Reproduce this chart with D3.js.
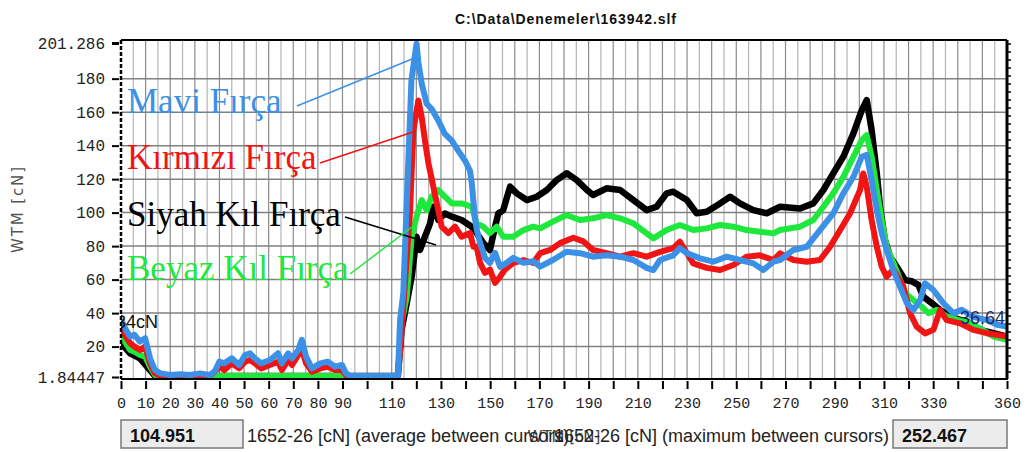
<!DOCTYPE html>
<html>
<head>
<meta charset="utf-8">
<script src="https://cdn.jsdelivr.net/npm/d3@7"></script>
<style>
  body { margin: 0; background: #fff; }
  svg { display: block; }
</style>
</head>
<body>
<svg width="1029" height="452"></svg>
<script>
// tick values / labels
const xTicks = d3.range(0, 361, 10);
const xLabels = [0, 10, 20, 30, 40, 50, 60, 70, 80, 90, 110, 130, 150, 170, 190, 210, 230, 250, 270, 290, 310, 330, 360];
const yTicks = [1.84447, 20, 40, 60, 80, 100, 120, 140, 160, 180, 201.286];
const yLabels = ['1.84447', '20', '40', '60', '80', '100', '120', '140', '160', '180', '201.286'];

// series, [position, cN]
const blueData = [[0,36],[2,30],[3.7,26],[5.5,27],[7.7,23],[9.8,25],[11.8,13],[13.8,6],[16,4],[20,3],[24,3.5],[28,3],[32,4],[36,3],[38,5],[40,11],[42,10],[45,13],[48,9],[50.4,15],[52.4,16],[54.4,13],[57,10],[60.5,12],[63.8,16],[65.4,10],[67.9,16],[69.5,13],[72,18],[73.5,24],[75.2,14],[77.6,7],[81,10],[84,11],[87,8],[89.8,9],[91.4,4],[93,2.5],[112.5,2.5],[113.4,36],[114.7,52],[116.7,129],[118,179],[120.1,201],[120.8,190],[122.2,177],[124.2,165],[126.2,162],[128.9,155],[131.6,147],[134.4,143],[137,137],[139.8,131],[141.8,125],[142.5,118],[143.8,97],[144.5,90],[145.9,82],[147.9,73],[149.9,70],[152,76],[154,67.6],[156.7,70],[159.4,73],[163.5,70],[167.5,71],[170.3,67.7],[175.5,71.7],[181,76.6],[186.5,75.8],[191.8,73.7],[197.3,74.5],[202.8,73.7],[208.2,71.7],[213.6,67],[216.3,65.7],[219,71.7],[224.4,74.5],[227.1,78.8],[229.9,75.8],[235.3,72.7],[240.7,70.7],[246.1,73.7],[251.5,71.7],[256.9,69.7],[261,65.7],[265.1,70.7],[267.8,71.7],[273.2,77.7],[278.6,79.6],[284,89.6],[289.4,99.5],[293.5,111.5],[297.6,121.4],[301,133.4],[303,134.5],[305,119.4],[307.1,101.5],[309.1,87.8],[311.1,77.7],[313.8,65.7],[316.5,55.8],[319.3,46],[322,41.8],[324.7,47.8],[326.7,57.8],[330.1,53.8],[334.1,46],[338.2,40],[341.6,42],[346.3,37.8],[351.8,35.8],[356,33],[360,32]];

const redData = [[0,31],[2,26],[3.7,22],[5.5,20],[7.7,18],[9.8,20],[11.8,10],[13.8,4],[16,2.5],[36,2.5],[38,5],[40,8],[42,6],[45,10],[48,7],[50.4,11],[52.4,12],[54.4,10],[57,7],[60.5,9],[63.8,11],[65.4,6],[67.9,12],[69.5,9],[72,15],[73.5,18],[75.2,10],[77.6,5],[81,7],[84,8],[87,6],[89.8,6],[91.4,3],[93,2.5],[112.5,2.5],[113.5,20],[114.7,43.8],[117.4,99.7],[118.8,149],[120.8,167],[122.2,157],[123.5,143],[124.9,129.6],[126.9,115.5],[128.9,101.5],[130.3,91.6],[133,87.8],[135.7,91.6],[138.4,85.6],[141.8,87.8],[143.2,79.6],[144.5,79.6],[145.9,70],[147.9,64],[149.9,66],[152,58],[154,61.7],[156,66],[159.4,70],[163.5,71.7],[167.5,70],[170.3,75.8],[174.4,77.7],[178.4,81.8],[183.8,85],[187.9,82.8],[191.8,77.7],[197.3,75.8],[202.8,73.7],[208.2,75.8],[213.6,73.7],[219,76.6],[224.4,78.8],[227.1,82.6],[232.5,69.7],[238,67],[243.4,65.7],[248.8,68.7],[254.2,73.7],[259.6,74.5],[265.1,71.7],[267.8,75.7],[273.2,71.7],[278.6,70.7],[284,71.7],[288.1,79.6],[292.2,89.6],[296.2,99.5],[300.3,113.5],[301.6,123.4],[303,115.5],[305,95.6],[307.1,79.6],[309.1,67.7],[311.1,61.7],[313.8,66],[317.9,55.8],[320.6,40],[323.3,31.9],[326.7,27.9],[330.1,30],[332.8,41.8],[335.5,35.8],[340.9,33.9],[346.3,30],[351.8,28],[360,26]];

const greenData = [[0,26],[2,22],[3.7,18],[5.5,17],[7.7,15],[9.8,14],[11.8,8],[13.8,3],[16,2.5],[112.5,2.5],[114,34],[116.1,49.8],[118.1,85.6],[120.1,97.6],[122.2,107.5],[124.2,101.5],[126.2,109.5],[128.9,113.5],[131.6,109.5],[134.4,105.5],[138.4,105.5],[142.5,103.5],[144.5,93.6],[147.2,91.6],[149.9,87.8],[152.7,91.6],[155.3,85.6],[159.4,85.6],[163.5,89.6],[167.5,91.6],[170.3,90.6],[175.5,94.6],[181,98.6],[186.5,95.6],[191.8,96.6],[197.3,98.6],[202.8,96.6],[208.2,93.6],[213.6,87.6],[216.3,84.6],[221.7,89.6],[227.1,92.6],[232.5,89.6],[238,90.6],[243.4,92.6],[248.8,91.6],[254.2,89.6],[259.6,88.6],[265.1,87.6],[267.8,89.6],[275.9,91.6],[281.3,95.6],[285.4,103.5],[289.4,111.5],[293.5,121.4],[297.6,133.4],[301,143.3],[303,146.3],[305,133.4],[307.1,113.5],[309.1,95.6],[311.1,79.6],[314.5,67.7],[318.6,52],[322,47.8],[325.4,43.8],[328.1,40],[331.5,42],[335.5,38],[340,36],[345,34],[350,30],[354.5,26],[360,24]];

const blackData = [[0,22],[3.7,16],[7.7,13],[11.8,6],[13.8,2.5],[112.5,2.5],[114,30],[116.1,46],[118.1,61.7],[120.1,85.6],[121.5,77.7],[123.5,85.6],[125.6,93.6],[126.9,103.5],[128.9,95.6],[131.6,99.5],[134.4,97.6],[138.4,95.6],[142.5,91.6],[144.5,87.8],[147.2,81.8],[149.9,77.7],[152,91.6],[153.3,99.5],[155.3,101.5],[158.1,115.5],[160.8,111.5],[164.9,107.5],[168.9,109.5],[173,113.5],[177,119.4],[181.1,123.5],[185.2,119.4],[189.3,113.5],[191.8,110.5],[197.3,114.5],[202.8,113.5],[208.2,107.5],[213.6,101.5],[217.6,103.5],[221.7,111.5],[224.4,112.5],[229.9,107.5],[233.9,99.6],[238,100.5],[243.4,105.5],[247.5,109.5],[251.5,105.5],[256.9,101.5],[262.4,99.6],[267.8,103.5],[275.9,102.5],[281.3,105.5],[285.4,113.5],[289.4,123.4],[293.5,133.4],[297.6,147.3],[301,161.2],[303,167.2],[305,149.3],[307.1,123.4],[308.4,103.5],[310.4,83.6],[312.5,73.7],[315.2,67.7],[318.6,59.7],[321.3,59],[324,56.8],[326,49.8],[329.4,46],[332.8,41.8],[338.2,37],[343.6,35],[349,30],[354.5,28],[360,26]];

const svg = d3.select('svg');
const plotLeft = 121, plotRight = 1007, plotTop = 40, plotBottom = 379;

const x = d3.scaleLinear().domain([0, 360]).range([plotLeft, plotRight]);
const y = d3.scaleLinear().domain([1.84447, 201.286]).range([377, 43]);

// title
svg.append('text')
  .attr('x', 455).attr('y', 24)
  .attr('textLength', 221)
  .style('font', 'bold 14px "Liberation Sans", Arial, sans-serif')
  .attr('fill', '#111')
  .text('C:\\Data\\Denemeler\\163942.slf');

// grid
svg.append('g').selectAll('line')
  .data(d3.range(5, 360, 5))
  .enter().append('line')
  .attr('x1', d => x(d)).attr('x2', d => x(d))
  .attr('y1', plotTop).attr('y2', plotBottom)
  .attr('stroke', d => d % 10 === 0 ? '#8c8c8c' : '#b4b4b4')
  .attr('stroke-width', 1.2);

svg.append('g').selectAll('line')
  .data(yTicks.slice(1, -1))
  .enter().append('line')
  .attr('x1', plotLeft).attr('x2', plotRight)
  .attr('y1', d => y(d)).attr('y2', d => y(d))
  .attr('stroke', '#808080')
  .attr('stroke-width', 1.5);

// series
const line = d3.line().x(d => x(d[0])).y(d => y(d[1]));
svg.append('clipPath').attr('id', 'plot')
  .append('rect').attr('x', plotLeft).attr('y', plotTop)
  .attr('width', plotRight - plotLeft).attr('height', plotBottom - plotTop);
const plot = svg.append('g').attr('clip-path', 'url(#plot)');

// signals are noisy, so they read as thick bands
const series = [
  { data: blackData, color: '#000000', w: 6.5 },
  { data: greenData, color: '#1ee83c', w: 6 },
  { data: redData, color: '#f01414', w: 6 },
  { data: blueData, color: '#3c91e6', w: 6 },
];
plot.selectAll('path')
  .data(series)
  .enter().append('path')
  .attr('d', d => line(d.data))
  .attr('fill', 'none')
  .attr('stroke', d => d.color)
  .attr('stroke-width', d => d.w)
  .attr('stroke-linejoin', 'round');

// cursor readouts
plot.append('text')
  .attr('x', 116).attr('y', 328)
  .style('font', '18px "Liberation Sans", Arial, sans-serif')
  .attr('fill', '#111')
  .text('34cN');
plot.append('text')
  .attr('x', 960).attr('y', 324)
  .style('font', '18px "Liberation Sans", Arial, sans-serif')
  .attr('fill', '#1c2a66')
  .text('36.64');

// frame
svg.append('line').attr('x1', plotLeft).attr('x2', plotRight).attr('y1', plotTop).attr('y2', plotTop)
  .attr('stroke', '#000').attr('stroke-width', 2);
svg.append('line').attr('x1', plotLeft).attr('x2', plotRight + 1).attr('y1', plotBottom).attr('y2', plotBottom)
  .attr('stroke', '#000').attr('stroke-width', 2);
svg.append('line').attr('x1', plotLeft).attr('x2', plotLeft).attr('y1', plotTop).attr('y2', plotBottom)
  .attr('stroke', '#000').attr('stroke-width', 2.5).attr('stroke-dasharray', '4,2');
svg.append('line').attr('x1', plotRight).attr('x2', plotRight).attr('y1', plotTop).attr('y2', plotBottom)
  .attr('stroke', '#000').attr('stroke-width', 3);
svg.append('g').selectAll('line')
  .data(d3.range(plotTop + 4, plotBottom, 8))
  .enter().append('line')
  .attr('x1', plotRight).attr('x2', plotRight + 4)
  .attr('y1', d => d).attr('y2', d => d)
  .attr('stroke', '#000').attr('stroke-width', 1.5);

// axes
const yAxis = svg.append('g')
  .attr('transform', `translate(${plotLeft - 2},0)`)
  .call(d3.axisLeft(y).tickValues(yTicks).tickFormat((d, i) => yLabels[i]).tickSize(7).tickPadding(7));
yAxis.select('.domain').remove();
yAxis.selectAll('line').attr('stroke', '#000').attr('stroke-width', (d, i) => i === yTicks.length - 1 ? 3 : 2);
yAxis.selectAll('text')
  .style('font', '16px "Liberation Mono", "Courier New", monospace')
  .attr('fill', '#222');

const xAxis = svg.append('g')
  .attr('transform', `translate(0,${plotBottom + 2})`)
  .call(d3.axisBottom(x).tickValues(xTicks).tickFormat(d => xLabels.includes(d) ? d : '').tickSize(8).tickPadding(8));
xAxis.select('.domain').remove();
xAxis.selectAll('line').attr('stroke', '#000').attr('stroke-width', 2);
xAxis.selectAll('text')
  .style('font', '15px "Liberation Mono", "Courier New", monospace')
  .attr('fill', '#222');

// axis title
svg.append('text')
  .attr('transform', 'translate(23,210) rotate(-90)')
  .attr('text-anchor', 'middle')
  .attr('textLength', 86)
  .style('font', '15px "DejaVu Sans", Verdana, sans-serif')
  .attr('fill', '#555')
  .text('WTM [cN]');

// legend labels with leader lines
const legend = [
  { name: 'Mavi Fırça', color: '#3c91e6', tx: 127, ty: 113, l: [297, 106, 417, 57] },
  { name: 'Kırmızı Fırça', color: '#f01414', tx: 127, ty: 169, l: [320, 163, 416, 131] },
  { name: 'Siyah Kıl Fırça', color: '#000000', tx: 127, ty: 226, l: [345, 217, 436, 245] },
  { name: 'Beyaz Kıl Fırça', color: '#1ee83c', tx: 127, ty: 280, l: [350, 274, 412, 227] },
];
const lg = svg.append('g');
lg.selectAll('line')
  .data(legend)
  .enter().append('line')
  .attr('x1', d => d.l[0]).attr('y1', d => d.l[1])
  .attr('x2', d => d.l[2]).attr('y2', d => d.l[3])
  .attr('stroke', d => d.color)
  .attr('stroke-width', 1.5);
lg.selectAll('text')
  .data(legend)
  .enter().append('text')
  .attr('x', d => d.tx).attr('y', d => d.ty)
  .style('font', '35px "Liberation Serif", "Times New Roman", serif')
  .attr('fill', d => d.color)
  .text(d => d.name);

// bottom readout bar
const boxes = [
  { x: 121, w: 122, v: '104.951' },
  { x: 893, w: 114, v: '252.467' },
];
const bx = svg.append('g');
bx.selectAll('rect')
  .data(boxes)
  .enter().append('rect')
  .attr('x', d => d.x).attr('y', 420)
  .attr('width', d => d.w).attr('height', 28)
  .attr('fill', '#ececec')
  .attr('stroke', '#7a7a7a')
  .attr('stroke-width', 1.5);
bx.selectAll('text')
  .data(boxes)
  .enter().append('text')
  .attr('x', d => d.x + 9).attr('y', 442)
  .style('font', 'bold 18px "Liberation Sans", Arial, sans-serif')
  .attr('fill', '#111')
  .text(d => d.v);

// the three footer texts sit on top of each other in the original
svg.append('text')
  .attr('x', 564).attr('y', 442)
  .attr('text-anchor', 'middle')
  .style('font', '15px "DejaVu Sans", Verdana, sans-serif')
  .attr('fill', '#444')
  .text('WTM [cN]');
svg.append('text')
  .attr('x', 247).attr('y', 442)
  .style('font', '18px "Liberation Sans", Arial, sans-serif')
  .attr('fill', '#222')
  .text('1652-26 [cN] (average between cursors)');
svg.append('text')
  .attr('x', 889).attr('y', 442)
  .attr('text-anchor', 'end')
  .style('font', '18px "Liberation Sans", Arial, sans-serif')
  .attr('fill', '#222')
  .text('1652-26 [cN] (maximum between cursors)');
</script>
</body>
</html>
